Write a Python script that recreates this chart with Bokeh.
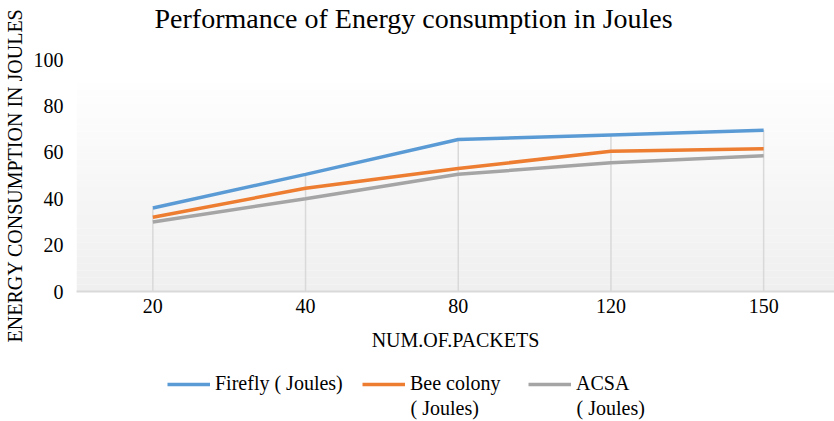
import numpy as np
from bokeh.plotting import figure
from bokeh.layouts import column
from bokeh.models import (Range1d, FixedTicker, Legend, LegendItem, BoxAnnotation, Title, Label)
from bokeh.embed import file_html
from bokeh.resources import INLINE

# ---- data ----
packets = ["20", "40", "80", "120", "150"]
firefly = [36, 50.5, 65.5, 67.5, 69.5]
bee_colony = [32, 44.5, 53, 60.5, 61.5]
acsa = [30, 40, 50.5, 55.5, 58.5]
y_ticks = [0, 20, 40, 60, 80, 100]

series_first_line = ["Firefly ( Joules)", "Bee colony", "ACSA"]
series_second_line = ["", "( Joules)", "( Joules)"]
colors = ["#5b9bd5", "#ed7d31", "#a5a5a5"]

FONT = "Liberation Serif"
xs = list(range(len(packets)))
series = [firefly, bee_colony, acsa]

p = figure(width=834, height=353, output_backend="svg", toolbar_location=None,
           x_range=Range1d(-0.5, 4.464), y_range=Range1d(0, 100),
           min_border_left=76, min_border_right=0, min_border_top=0, min_border_bottom=60)
p.title = None
# spacer nearest the frame, then the real title above it
p.add_layout(Title(text=" ", text_font=FONT, text_font_size="20px", standoff=2), "above")
p.add_layout(Title(text="Performance of Energy consumption in Joules", align="left", offset=78,
                   text_font=FONT, text_font_size="28px", text_font_style="normal",
                   text_color="#000000", standoff=0), "above")

p.background_fill_color = "#ffffff"
p.border_fill_color = "#ffffff"
p.outline_line_color = None
p.grid.grid_line_color = None

# subtle gradient background of plot area
plot_area_top = 90
n_bands = 30
for i in range(n_bands):
    t = i / (n_bands - 1)
    c = int(round(0xef + (0xfe - 0xef) * t))
    p.add_layout(BoxAnnotation(bottom=plot_area_top * i / n_bands,
                               top=plot_area_top * (i + 1) / n_bands,
                               fill_color="#%02x%02x%02x" % (c, c, c), fill_alpha=1.0,
                               line_color=None, level="underlay"))

# drop lines from max value to axis
tops = np.max(np.array(series), axis=0)
p.segment(x0=xs, y0=[0] * len(xs), x1=xs, y1=tops, line_color="#d9d9d9", line_width=1.5)

for vals, col in zip(series, colors):
    p.line(xs, vals, line_color=col, line_width=3.5)

# axes
p.xaxis.ticker = FixedTicker(ticks=xs)
p.xaxis.major_label_overrides = {i: s for i, s in enumerate(packets)}
p.xaxis.axis_label = "NUM.OF.PACKETS"
p.xaxis.axis_line_color = "#d9d9d9"
p.xaxis.axis_line_width = 2
p.xaxis.major_tick_line_color = None
p.xaxis.minor_tick_line_color = None
p.xaxis.major_label_standoff = 1
p.xaxis.axis_label_standoff = 13

p.yaxis.ticker = FixedTicker(ticks=y_ticks)
p.yaxis.axis_label = "ENERGY CONSUMPTION IN JOULES"
p.yaxis.axis_line_color = None
p.yaxis.major_tick_line_color = None
p.yaxis.minor_tick_line_color = None
p.yaxis.major_label_standoff = 7
p.yaxis.axis_label_standoff = 5

for ax in [p.xaxis, p.yaxis]:
    ax.major_label_text_font = FONT
    ax.major_label_text_font_size = "20px"
    ax.major_label_text_color = "#000000"
    ax.axis_label_text_font = FONT
    ax.axis_label_text_font_size = "20px"
    ax.axis_label_text_font_style = "normal"
    ax.axis_label_text_color = "#000000"

# ---- legend strip ----
p2 = figure(width=834, height=68, output_backend="svg", toolbar_location=None,
            x_range=Range1d(0, 758), y_range=Range1d(0, 68),
            min_border_left=76, min_border_right=0, min_border_top=0, min_border_bottom=0)
p2.axis.visible = False
p2.grid.grid_line_color = None
p2.outline_line_color = None
p2.background_fill_color = "#ffffff"
p2.border_fill_color = "#ffffff"

legend_x = [91, 286, 452]
glyph_w, standoff = 43, 5
for name, name2, vals, col, lx in zip(series_first_line, series_second_line, series, colors, legend_x):
    r = p2.line([v - 1000 for v in xs], vals, line_color=col, line_width=3.5)
    lg = Legend(items=[LegendItem(label=name, renderers=[r])], location=(lx, 26),
                label_text_font=FONT, label_text_font_size="20px", label_text_color="#000000",
                glyph_width=glyph_w, label_standoff=standoff, border_line_color=None,
                background_fill_alpha=0, margin=0, padding=0)
    p2.add_layout(lg, "center")
    if name2:
        p2.add_layout(Label(x=lx + glyph_w + standoff, y=14, text=name2, text_baseline="middle",
                            text_font=FONT, text_font_size="20px", text_color="#000000"))

layout = column(p, p2, spacing=0)
open("out.html", "w").write(file_html(layout, INLINE))
